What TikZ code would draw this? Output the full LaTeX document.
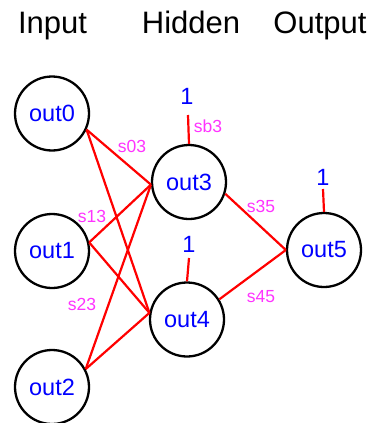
\documentclass[tikz,border=0pt]{standalone}
\usepackage{fontspec}
\setmainfont{Liberation Sans}
\definecolor{nblue}{RGB}{0,0,255}
\definecolor{wmag}{RGB}{255,51,255}
\definecolor{wred}{RGB}{255,0,0}
\begin{document}
\begin{tikzpicture}[x=1pt,y=-1pt,
  neuron/.style={circle,draw=black,line width=2.3pt,minimum size=74pt,inner sep=0pt,
    text=nblue,font=\fontsize{23.5}{23.5}\selectfont},
  header/.style={anchor=base,inner sep=0pt,font=\fontsize{31}{31}\selectfont},
  wlabel/.style={anchor=base,inner sep=0pt,text=wmag,font=\fontsize{17.5}{17.5}\selectfont},
  biasone/.style={anchor=base,inner sep=0pt,text=nblue,font=\fontsize{23.5}{23.5}\selectfont},
  conn/.style={draw=wred,line width=2.2pt}]
\useasboundingbox (0,0) rectangle (374,423);
\node[header] (hin) at (52.5,33) {Input};
\node[header] (hhid) at (191,33) {Hidden};
\node[header] (hout) at (320,33) {Output};
\node[neuron] (out0) at (52,113.5) {out0};
\node[neuron] (out1) at (52,251) {out1};
\node[neuron] (out2) at (52,387) {out2};
\node[neuron] (out3) at (189,182) {out3};
\node[neuron] (out4) at (187,319.5) {out4};
\node[neuron] (out5) at (324,250) {out5};
\node[biasone] (b3) at (187,104) {1};
\node[biasone] (b4) at (189,252) {1};
\node[biasone] (b5) at (323,185) {1};
\coordinate (t3) at (188,115);
\coordinate (t4) at (189,258);
\coordinate (t5) at (323,189);
\path[conn] (out3.north) -- (t3);
\path[conn] (out4.north) -- (t4);
\path[conn] (out5.north) -- (t5);
\path[conn] (out0.-25) -- (out3.184);
\path[conn] (out0.-25) -- (out4.170);
\path[conn] (out1.13) -- (out3.184);
\path[conn] (out1.13) -- (out4.170);
\path[conn] (out2.28) -- (out3.184);
\path[conn] (out2.28) -- (out4.170);
\path[conn] (out3.-18) -- (out5.west);
\path[conn] (out4.32) -- (out5.west);
\node[wlabel] (s03) at (132,152) {s03};
\node[wlabel] (s13) at (92,222) {s13};
\node[wlabel] (s23) at (82,310) {s23};
\node[wlabel] (s35) at (261,212) {s35};
\node[wlabel] (s45) at (261,302) {s45};
\node[wlabel] (sb3) at (208,132) {sb3};
\end{tikzpicture}
\end{document}
